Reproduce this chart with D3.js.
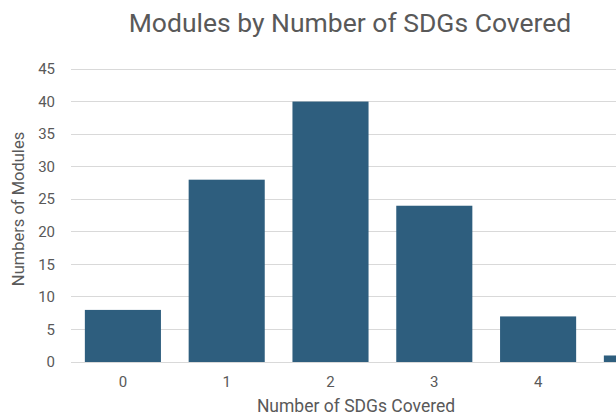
<!DOCTYPE html>
<html><head><meta charset="utf-8">
<script src="https://cdn.jsdelivr.net/npm/d3@7"></script>
<style>html,body{margin:0;padding:0;background:#fff;overflow:hidden}</style>
</head><body>
<script>
const categories = ["0","1","2","3","4","5"];
const values = [8, 28, 40, 24, 7, 1];
const yTicks = [0,5,10,15,20,25,30,35,40,45];
const title = "Modules by Number of SDGs Covered";
const xTitle = "Number of SDGs Covered";
const yTitle = "Numbers of Modules";

const W = 616, H = 416;
const font = "Roboto, 'Open Sans', sans-serif";
const svg = d3.select("body").append("svg").attr("width", W).attr("height", H);

const x = d3.scaleBand().domain(categories).range([71, 71 + 6*103.8]).paddingInner(0.267).paddingOuter(0.1335);
const y = d3.scaleLinear().domain([0,45]).range([362, 69]);

svg.append("g").selectAll("line").data(yTicks).join("line")
  .attr("x1", 71).attr("x2", W).attr("y1", d=>y(d)).attr("y2", d=>y(d))
  .attr("stroke", "#d9d9d9").attr("stroke-width", 1).attr("shape-rendering","crispEdges");

svg.append("g").selectAll("rect").data(values).join("rect")
  .attr("x", (d,i)=>x(categories[i])).attr("width", x.bandwidth())
  .attr("y", d=>y(d)).attr("height", d=>y(0)-y(d))
  .attr("fill", "#2e5e7e");

svg.append("g").selectAll("text").data(yTicks).join("text")
  .attr("x", 55).attr("y", d=>y(d)).attr("dy","0.35em").attr("text-anchor","end")
  .attr("font-family", font).attr("font-size", 15).attr("fill","#595959").text(d=>d);

svg.append("g").selectAll("text").data(categories.filter(d => x(d)+x.bandwidth()/2 + 6 < W)).join("text")
  .attr("x", d=>x(d)+x.bandwidth()/2).attr("y", 382).attr("dy","0.35em").attr("text-anchor","middle")
  .attr("font-family", font).attr("font-size", 15).attr("fill","#595959").text(d=>d);

svg.append("text").attr("x", 350).attr("y", 23).attr("dy","0.35em").attr("text-anchor","middle")
  .attr("font-family", font).attr("font-size", 26.5).attr("fill","#595959").text(title);

svg.append("text").attr("x", 356).attr("y", 406).attr("dy","0.35em").attr("text-anchor","middle")
  .attr("font-family", font).attr("font-size", 17.5).attr("fill","#595959").text(xTitle);

svg.append("text").attr("transform","translate(18,209) rotate(-90)").attr("dy","0.35em").attr("text-anchor","middle")
  .attr("font-family", font).attr("font-size", 16.5).attr("fill","#595959").text(yTitle);
</script>
</body></html>
